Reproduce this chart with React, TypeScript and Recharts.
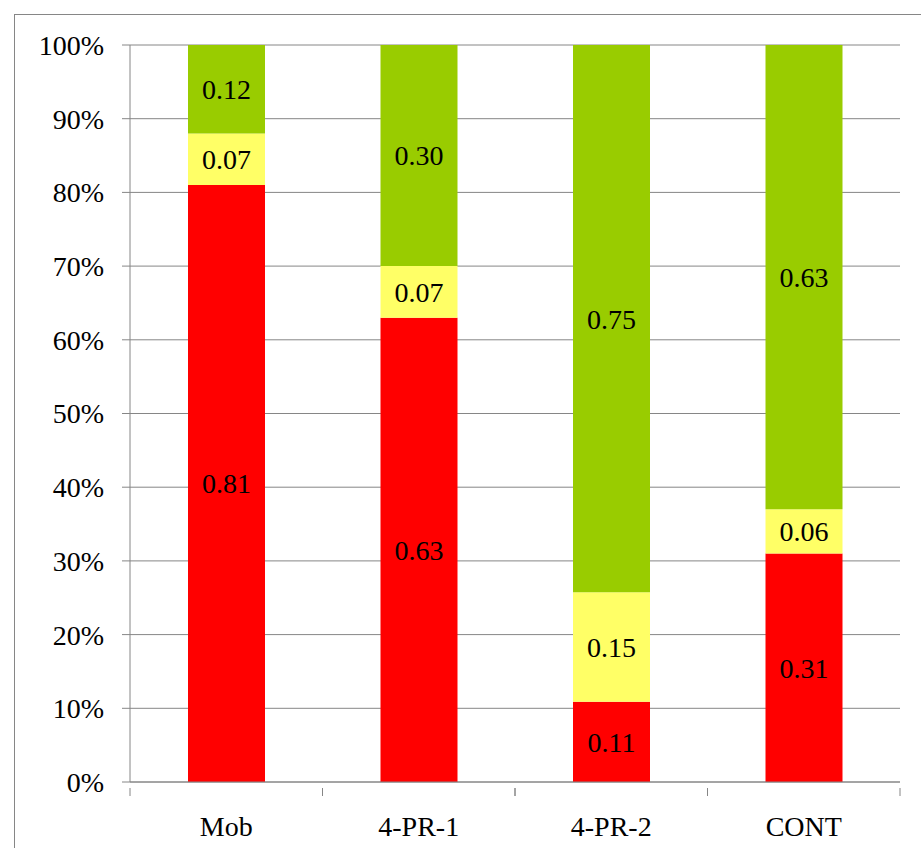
import { Bar, BarChart, CartesianGrid, LabelList, XAxis, YAxis } from "recharts";

const categories = ["Mob", "4-PR-1", "4-PR-2", "CONT"];
const redValues = [0.81, 0.63, 0.11, 0.31];
const yellowValues = [0.07, 0.07, 0.15, 0.06];
const greenValues = [0.12, 0.3, 0.75, 0.63];
const yTicks = [0, 0.1, 0.2, 0.3, 0.4, 0.5, 0.6, 0.7, 0.8, 0.9, 1];

const data = categories.map((name, i) => ({
  name,
  red: redValues[i],
  yellow: yellowValues[i],
  green: greenValues[i],
}));

const FONT = "'Liberation Serif', 'Times New Roman', serif";
const BAND = 770 / 4;

function XTick(props: any) {
  const { x, y, payload } = props;
  return (
    <g>
      <line x1={x - BAND / 2} x2={x - BAND / 2} y1={y - 2} y2={y + 6} stroke="#868686" />
      <line x1={x + BAND / 2} x2={x + BAND / 2} y1={y - 2} y2={y + 6} stroke="#868686" />
      <text x={x} y={y + 46} textAnchor="middle" fontSize={28} fontFamily={FONT} fill="#000">
        {payload.value}
      </text>
    </g>
  );
}

const fmt = (v: any) => Number(v).toFixed(2);

export default function App() {
  return (
    <div style={{ position: "absolute", left: 0, top: 0, width: 921, height: 848, background: "#fff", overflow: "hidden" }}>
      <div style={{ position: "absolute", left: 14, top: 14, width: 930, height: 860, border: "1px solid #868686" }} />
      <div style={{ position: "absolute", left: 0, top: 0 }}>
        <BarChart
          width={921}
          height={848}
          data={data}
          stackOffset="expand"
          margin={{ top: 45, right: 21, bottom: 36, left: 20 }}
          barCategoryGap={0}
        >
          <CartesianGrid vertical={false} stroke="#868686" />
          <XAxis
            dataKey="name"
            tickLine={false}
            stroke="#868686"
            tick={<XTick />}
            interval={0}
            height={30}
          />
          <YAxis
            width={110}
            ticks={yTicks}
            domain={[0, 1]}
            tickFormatter={(v) => `${Math.round(v * 100)}%`}
            stroke="#868686"
            tickSize={8}
            tickMargin={18}
            tick={{ fontSize: 28, fontFamily: FONT, fill: "#000" }}
          />
          <Bar dataKey="red" stackId="a" fill="#ff0000" barSize={77} isAnimationActive={false}>
            <LabelList dataKey="red" position="center" formatter={fmt} fontSize={28} fontFamily={FONT} fill="#000" />
          </Bar>
          <Bar dataKey="yellow" stackId="a" fill="#ffff66" barSize={77} isAnimationActive={false}>
            <LabelList dataKey="yellow" position="center" formatter={fmt} fontSize={28} fontFamily={FONT} fill="#000" />
          </Bar>
          <Bar dataKey="green" stackId="a" fill="#99cc00" barSize={77} isAnimationActive={false}>
            <LabelList dataKey="green" position="center" formatter={fmt} fontSize={28} fontFamily={FONT} fill="#000" />
          </Bar>
        </BarChart>
      </div>
    </div>
  );
}
